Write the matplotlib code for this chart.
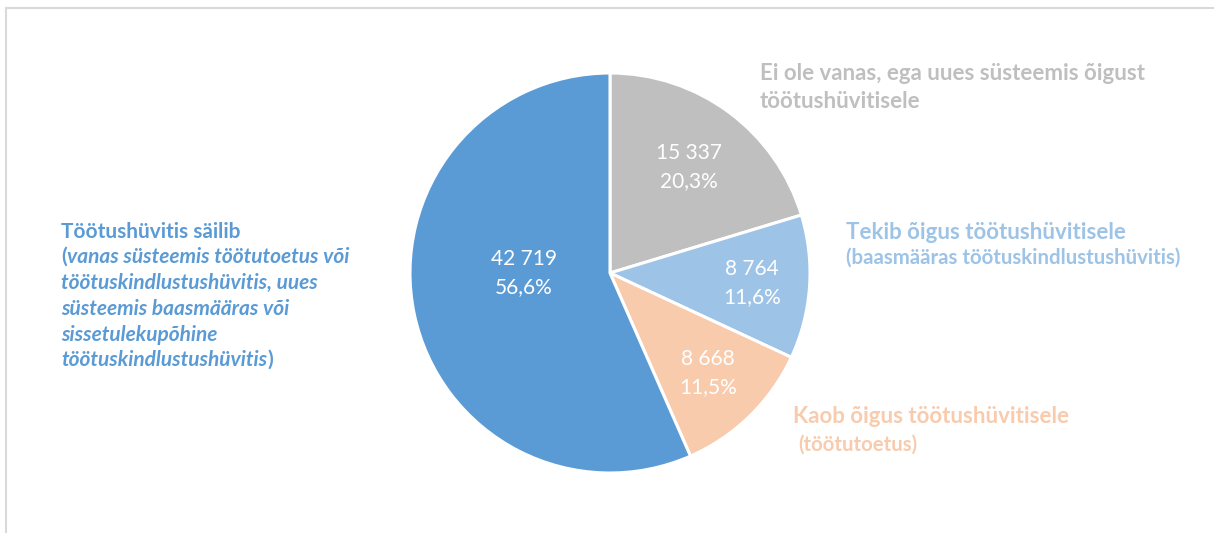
import numpy as np
import matplotlib
matplotlib.use('Agg')
import matplotlib.pyplot as plt
from matplotlib.patches import Rectangle

W, H = 1214, 533

# slices, clockwise from 12 o'clock
counts = [15337, 8764, 8668, 42719]
pct_txt = ['20,3%', '11,6%', '11,5%', '56,6%']
colors = ['#BFBFBF', '#9DC3E6', '#F8CBAD', '#5B9BD5']
lab_dist = [0.66, 0.71, 0.70, 0.44]
lab_dy = [0, 0, 0, 18]   # the big slice label sits on the horizontal

def fmt(n):
    return f'{n:,}'.replace(',', ' ')

plt.rcParams['font.family'] = ['Lato', 'DejaVu Sans']

fig = plt.figure(figsize=(W / 100, H / 100), dpi=100)
ax = fig.add_axes([0, 0, 1, 1])

def Y(y):
    return H - y

# frame border
ax.add_patch(Rectangle((6, -20), W + 40, Y(8) + 20, fill=False,
                       edgecolor='#D9D9D9', lw=1.5))

cx, cy, r = 610, Y(273), 200
wedges, _ = ax.pie(counts, colors=colors, startangle=90, counterclock=False,
                   center=(cx, cy), radius=r, frame=True,
                   wedgeprops=dict(edgecolor='white', linewidth=2.2))
ax.set_xlim(0, W)
ax.set_ylim(0, H)
ax.set_aspect('equal')
ax.axis('off')

for w, n, p, d, dy in zip(wedges, counts, pct_txt, lab_dist, lab_dy):
    ang = np.deg2rad((w.theta1 + w.theta2) / 2)
    x = cx + d * r * np.cos(ang)
    y = cy + d * r * np.sin(ang) + dy
    ax.text(x, y, fmt(n) + '\n' + p, color='white', fontsize=15,
            ha='center', va='center', linespacing=1.5)

# category labels
ax.text(760, Y(80), 'Ei ole vanas, ega uues süsteemis õigust', color=colors[0],
        fontsize=16, fontweight='bold', va='baseline')
ax.text(760, Y(108), 'töötushüvitisele', color=colors[0],
        fontsize=16, fontweight='bold', va='baseline')

ax.text(846, Y(239), 'Tekib õigus töötushüvitisele', color=colors[1],
        fontsize=16, fontweight='bold', va='baseline')
ax.text(846, Y(264), '(baasmääras töötuskindlustushüvitis)', color=colors[1],
        fontsize=14.7, fontweight='bold', va='baseline')

ax.text(793, Y(423), 'Kaob õigus töötushüvitisele', color=colors[2],
        fontsize=16, fontweight='bold', va='baseline')
ax.text(798, Y(451), '(töötutoetus)', color=colors[2],
        fontsize=14.7, fontweight='bold', va='baseline')

blue = colors[3]
ax.text(61, Y(238), 'Töötushüvitis säilib', color=blue,
        fontsize=15, fontweight='bold', va='baseline')

fig.canvas.draw()
rend = fig.canvas.get_renderer()

def after(t, s, style):
    bb = t.get_window_extent(rend)
    x = ax.transData.inverted().transform((bb.x1, bb.y0))[0]
    return ax.text(x, t.get_position()[1], s, color=blue, fontsize=15,
                   fontweight='bold', fontstyle=style, va='baseline')

sub = dict(color=blue, fontsize=15, fontweight='bold', va='baseline')
t = ax.text(61, Y(263), '(', **sub)
after(t, 'vanas süsteemis töötutoetus või', 'italic')
ax.text(61, Y(289), 'töötuskindlustushüvitis, uues', fontstyle='italic', **sub)
ax.text(61, Y(315), 'süsteemis baasmääras või', fontstyle='italic', **sub)
ax.text(61, Y(341), 'sissetulekupõhine', fontstyle='italic', **sub)
t = ax.text(61, Y(366), 'töötuskindlustushüvitis', fontstyle='italic', **sub)
after(t, ')', 'normal')

fig.savefig('out.png', dpi=100)
